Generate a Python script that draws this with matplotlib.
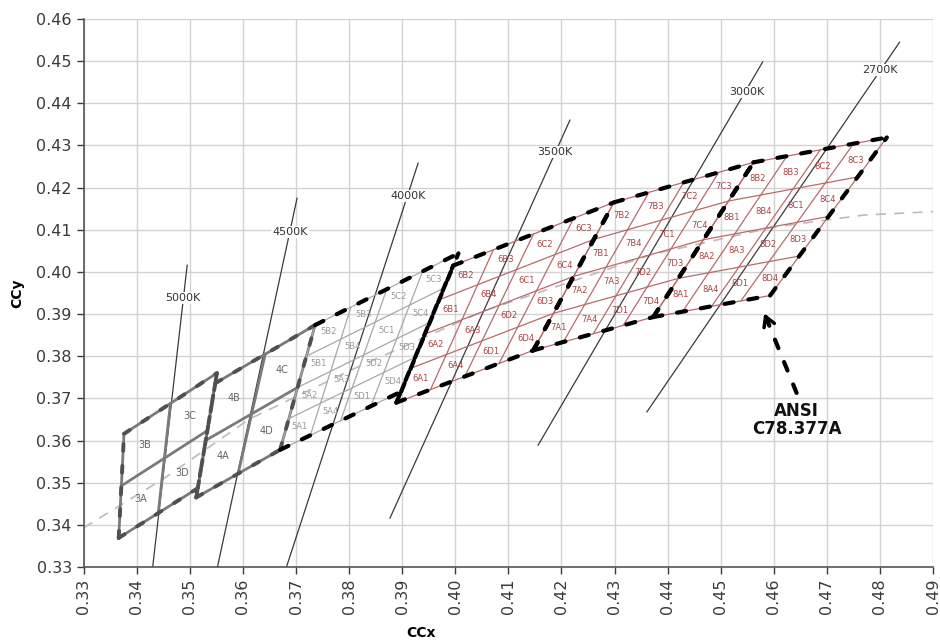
import numpy as np
import matplotlib
matplotlib.use('Agg')
import matplotlib.pyplot as plt

# ANSI C78.377A quadrangles (corner chromaticities)
cct_names = ['5000K', '4500K', '4000K', '3500K', '3000K', '2700K']
bin_prefix = ['3', '4', '5', '6', '7', '8']
n_div = [2, 2, 4, 4, 4, 4]
ll_x = [0.3366, 0.3512, 0.3670, 0.3889, 0.4147, 0.4373]
ll_y = [0.3369, 0.3465, 0.3578, 0.3690, 0.3814, 0.3893]
ul_x = [0.3376, 0.3548, 0.3736, 0.3996, 0.4299, 0.4562]
ul_y = [0.3616, 0.3736, 0.3874, 0.4015, 0.4165, 0.4260]
ur_x = [0.3551, 0.3736, 0.4006, 0.4299, 0.4562, 0.4813]
ur_y = [0.3760, 0.3874, 0.4044, 0.4165, 0.4260, 0.4319]
lr_x = [0.3515, 0.3670, 0.3898, 0.4147, 0.4373, 0.4593]
lr_y = [0.3487, 0.3578, 0.3716, 0.3814, 0.3893, 0.3944]

# isotherm lines (CCT)
iso_x0 = [0.3430, 0.3552, 0.3682, 0.3877, 0.4156, 0.4361]
iso_y0 = [0.3300, 0.3300, 0.3300, 0.3416, 0.3589, 0.3668]
iso_x1 = [0.3495, 0.3702, 0.3930, 0.4216, 0.4579, 0.4837]
iso_y1 = [0.4016, 0.4175, 0.4258, 0.4360, 0.4498, 0.4545]
iso_lx = [0.3486, 0.3689, 0.3911, 0.4188, 0.4549, 0.4800]
iso_ly = [0.3938, 0.4095, 0.4180, 0.4284, 0.4427, 0.4479]

# black body locus
locus_x = [0.330, 0.3451, 0.3611, 0.3805, 0.4053, 0.4369, 0.4599, 0.4770, 0.4900]
locus_y = [0.3393, 0.3510, 0.3650, 0.3768, 0.3907, 0.4041, 0.4106, 0.4135, 0.4143]

ansi_tail = (0.4643, 0.3713)
ansi_tip = (0.4582, 0.3902)
ansi_text = (0.4643, 0.3648)

letters = {(0, 0): 'A', (0, 1): 'B', (1, 1): 'C', (1, 0): 'D'}
numbers = {(0, 0): '1', (0, 1): '2', (1, 1): '3', (1, 0): '4'}

fig = plt.figure(figsize=(9.4, 6.42), dpi=100)
ax = fig.add_axes([0.089, 0.1168, 0.9036, 0.8536])


def pt(q, u, v):
    x = ((1 - u) * (1 - v) * ll_x[q] + (1 - u) * v * ul_x[q]
         + u * v * ur_x[q] + u * (1 - v) * lr_x[q])
    y = ((1 - u) * (1 - v) * ll_y[q] + (1 - u) * v * ul_y[q]
         + u * v * ur_y[q] + u * (1 - v) * lr_y[q])
    return x, y


def seg(q, a, b, **kw):
    p0, p1 = pt(q, *a), pt(q, *b)
    ax.plot([p0[0], p1[0]], [p0[1], p1[1]], **kw)


edges = {'bottom': ((0, 0), (1, 0)), 'top': ((0, 1), (1, 1)),
         'left': ((0, 0), (0, 1)), 'right': ((1, 0), (1, 1))}

black_dash = dict(color='black', lw=3.0, ls=(0, (2.2, 3.6)),
                  dash_capstyle='round', zorder=5)
gray_dash = dict(color='#505050', lw=2.8, ls=(0, (1.8, 3.8)),
                 dash_capstyle='round', zorder=5)

# locus
ax.plot(locus_x, locus_y, color='#bbbbbb', lw=1.2, ls=(0, (6, 5)), zorder=1)

# isotherms
for i in range(len(cct_names)):
    ax.plot([iso_x0[i], iso_x1[i]], [iso_y0[i], iso_y1[i]],
            color='#3a3a3a', lw=0.9, zorder=2)
    ax.text(iso_lx[i], iso_ly[i], cct_names[i], fontsize=8, color='#333333',
            ha='center', va='center', zorder=7,
            bbox=dict(boxstyle='square,pad=0.1', fc='white', ec='none'))

for q in range(len(cct_names)):
    n = n_div[q]
    if q < 2:
        inner = dict(color='#7a7a7a', lw=2.0, zorder=3)
        lab_c, lab_fs = '#666666', 7
    elif q == 2:
        inner = dict(color='#a8a8a8', lw=0.9, zorder=3)
        lab_c, lab_fs = '#9a9a9a', 6
    else:
        inner = dict(color='#b86a6a', lw=0.9, zorder=3)
        lab_c, lab_fs = '#a84444', 6

    for k in range(1, n):
        seg(q, (k / n, 0), (k / n, 1), **inner)
        seg(q, (0, k / n), (1, k / n), **inner)

    for name, (a, b) in edges.items():
        seg(q, a, b, **inner)
        if q < 2:
            seg(q, a, b, **gray_dash)
        elif q == 2 and name == 'left':
            continue
        else:
            seg(q, a, b, **black_dash)

    for i in range(n):
        for j in range(n):
            cx, cy = pt(q, (i + 0.5) / n, (j + 0.5) / n)
            if n == 2:
                lab = bin_prefix[q] + letters[(i, j)]
            else:
                lab = (bin_prefix[q] + letters[(i // 2, j // 2)]
                       + numbers[(i % 2, j % 2)])
            ax.text(cx, cy, lab, fontsize=lab_fs, color=lab_c,
                    ha='center', va='center', zorder=6)

# ANSI arrow
ax.plot([ansi_tail[0], ansi_tip[0]], [ansi_tail[1], ansi_tip[1]],
        color='black', lw=3.0, ls=(0, (2.2, 3.6)), dash_capstyle='round',
        zorder=6)
head_from = (ansi_tip[0] + 0.15 * (ansi_tail[0] - ansi_tip[0]),
             ansi_tip[1] + 0.15 * (ansi_tail[1] - ansi_tip[1]))
ax.annotate('', xy=ansi_tip, xytext=head_from,
            arrowprops=dict(arrowstyle='->,head_length=0.7,head_width=0.4',
                            color='black', lw=2.5, shrinkA=0, shrinkB=0),
            zorder=6)
ax.text(ansi_text[0], ansi_text[1], 'ANSI\nC78.377A', fontsize=12,
        fontweight='bold', ha='center', va='center', linespacing=1.0,
        color='#111111', zorder=7)

ax.set_xlim(0.33, 0.49)
ax.set_ylim(0.33, 0.46)
ax.set_xticks(np.arange(0.33, 0.4901, 0.01))
ax.set_yticks(np.arange(0.33, 0.4601, 0.01))
ax.set_xticklabels([f'{v:.2f}' for v in np.arange(0.33, 0.4901, 0.01)],
                   rotation=90)
ax.set_yticklabels([f'{v:.2f}' for v in np.arange(0.33, 0.4601, 0.01)])
ax.tick_params(labelsize=11.5, colors='#3a3a3a', length=5, width=1,
               direction='out')
ax.grid(True, color='#d2d2d2', lw=1.0)
ax.set_axisbelow(True)
for s in ['top', 'right']:
    ax.spines[s].set_visible(False)
for s in ['left', 'bottom']:
    ax.spines[s].set_color('#555555')
    ax.spines[s].set_linewidth(1.2)

ax.set_xlabel('CCx', fontsize=10, fontweight='bold')
ax.set_ylabel('CCy', fontsize=10, fontweight='bold')
ax.xaxis.set_label_coords(0.397, -0.108)
ax.yaxis.set_label_coords(-0.07, 0.5)

fig.savefig('out.png', dpi=100)
